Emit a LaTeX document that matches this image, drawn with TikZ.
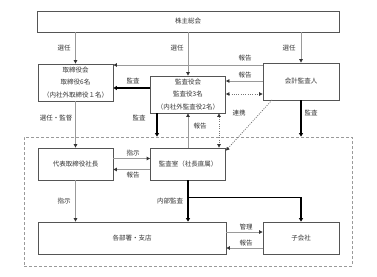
\documentclass[tikz,border=0pt]{standalone}
\usepackage{fontspec}
\setmainfont{Noto Sans CJK JP}
\usetikzlibrary{arrows.meta,calc}
\definecolor{boxc}{HTML}{555555}
\definecolor{linec}{HTML}{9A9A9A}
\definecolor{tipc}{HTML}{333333}
\definecolor{dotc}{HTML}{777777}
\definecolor{txtc}{HTML}{333333}
\begin{document}
\begin{tikzpicture}[x=1pt,y=-1pt,
  box/.style={draw=boxc, line width=0.8pt, fill=white, inner sep=0pt, align=center,
    font=\fontsize{6.5}{12.5}\selectfont, text=txtc},
  grp/.style={draw=linec, line width=0.8pt, dash pattern=on 3pt off 2pt, inner sep=0pt},
  thinarrow/.style={draw=linec, line width=0.8pt, -{Triangle[length=3.5pt,width=3.5pt,color=tipc]}},
  heavy/.style={draw=black, line width=1.6pt, -{Triangle[length=3.5pt,width=4pt]}},
  heavyline/.style={draw=black, line width=1.6pt},
  dotarrow/.style={draw=dotc, line width=0.8pt, dash pattern=on 1pt off 1.3pt,
    {Triangle[length=3.5pt,width=3.5pt,color=tipc]}-{Triangle[length=3.5pt,width=3.5pt,color=tipc]}},
  dotone/.style={draw=dotc, line width=0.8pt, dash pattern=on 1pt off 1.3pt,
    -{Triangle[length=3.5pt,width=3.5pt,color=tipc]}},
  lbl/.style={font=\fontsize{6.5}{8}\selectfont, text=txtc, inner sep=0pt}
]
\useasboundingbox (0,0) rectangle (377,276);

% group (dashed)
\node[grp, minimum width=328pt, minimum height=129pt] (grp) at (188,201.5) {};

% boxes
\node[box, minimum width=302pt, minimum height=21pt] (kabu) at (188,21.5) {株主総会};
\node[box, minimum width=75pt, minimum height=37pt] (tori) at (75.5,82.5) {取締役会\\取締役6名\\（内社外取締役１名）};
\node[box, minimum width=75pt, minimum height=37pt] (kansa) at (188,94.5) {監査役会\\監査役3名\\（内社外監査役2名）};
\node[box, minimum width=76pt, minimum height=37pt] (kaikei) at (301,81.5) {会計監査人};
\node[box, minimum width=75pt, minimum height=32pt] (daihyo) at (75.5,164) {代表取締役社長};
\node[box, minimum width=75pt, minimum height=32pt] (shitsu) at (188,164) {監査室（社長直属）};
\node[box, minimum width=188pt, minimum height=32pt] (kakubu) at (132,238) {各部署・支店};
\node[box, minimum width=76pt, minimum height=32pt] (kogaisha) at (301,238) {子会社};

% helper coordinates
\coordinate (y65) at (0,65);
\coordinate (y81) at (0,81);
\coordinate (y88) at (0,88);
\coordinate (y94) at (0,94);
\coordinate (x157) at (157,0);
\coordinate (x219) at (219,0);
\coordinate (y158) at (0,158.5);
\coordinate (y169) at (0,169.5);
\coordinate (y232) at (0,232);
\coordinate (y248) at (0,248);
\coordinate (rs) at (272,100);

% election arrows
\draw[thinarrow] (tori.north |- kabu.south) -- (tori.north);
\draw[thinarrow] (kansa.north |- kabu.south) -- (kansa.north);
\draw[thinarrow] (kaikei.north |- kabu.south) -- (kaikei.north);

% reports from accounting auditor
\draw[thinarrow] (kaikei.west |- y65) -- (tori.east |- y65);
\draw[thinarrow] (kaikei.west |- y81) -- (kansa.east |- y81);
\draw[dotarrow] (kansa.east |- y94) -- (kaikei.west |- y94);

% audit board -> board
\draw[heavy] (kansa.west |- y88) -- (tori.east |- y88);

% board -> president
\draw[thinarrow] (tori.south) -- (daihyo.north);

% audit board audits (down to group)
\draw[heavy] (kansa.south -| x157) -- (grp.north -| x157);
% report from audit office
\draw[thinarrow] (shitsu.north) -- (kansa.south);
% dotted cooperation
\draw[dotarrow] (kansa.south -| x219) -- (shitsu.north -| x219);
\draw[dotone] (rs) -- ([yshift=-3pt]shitsu.north east);

% accounting auditor audits
\draw[heavy] (kaikei.south) -- (kaikei.south |- grp.north);

% president <-> audit office
\draw[thinarrow] (daihyo.east |- y158) -- (shitsu.west |- y158);
\draw[thinarrow] (shitsu.west |- y169) -- (daihyo.east |- y169);

% president -> departments
\draw[thinarrow] (daihyo.south) -- (kakubu.north -| daihyo.south);

% internal audit
\draw[heavy] (shitsu.south) -- (kakubu.north -| shitsu.south);
\draw[heavy] ([yshift=-17pt]shitsu.south) -| (kogaisha.north);

% departments <-> subsidiaries
\draw[thinarrow] (kakubu.east |- y232) -- (kogaisha.west |- y232);
\draw[thinarrow] (kogaisha.west |- y248) -- (kakubu.east |- y248);

% labels
\node[lbl] (l1) at (64,48) {選任};
\node[lbl] (l2) at (177,48) {選任};
\node[lbl] (l3) at (289,48) {選任};
\node[lbl] (l4) at (245,58) {報告};
\node[lbl] (l5) at (245,75) {報告};
\node[lbl] (l6) at (133,81) {監査};
\node[lbl] (l7) at (56,118) {選任・監督};
\node[lbl] (l8) at (139,118) {監査};
\node[lbl] (l9) at (200,126) {報告};
\node[lbl] (l10) at (239,113) {連携};
\node[lbl] (l11) at (311,113) {監査};
\node[lbl] (l12) at (133,153) {指示};
\node[lbl] (l13) at (133,175) {報告};
\node[lbl] (l14) at (64,201) {指示};
\node[lbl] (l15) at (170,201) {内部監査};
\node[lbl] (l16) at (246,227) {管理};
\node[lbl] (l17) at (246,243) {報告};
\end{tikzpicture}
\end{document}
